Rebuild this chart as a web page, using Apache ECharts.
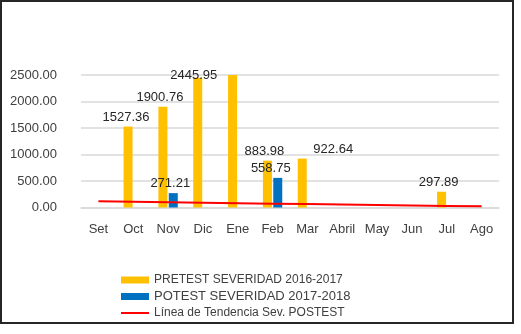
<!DOCTYPE html>
<html><head><meta charset="utf-8">
<script src="https://cdn.jsdelivr.net/npm/echarts@6/dist/echarts.min.js"></script>
<style>
html,body{margin:0;padding:0;background:#fff;}
#chart{position:absolute;left:0;top:0;width:521px;height:334px;}
#frame{position:absolute;left:0;top:0;width:514px;height:324px;box-sizing:border-box;border:2px solid #262626;pointer-events:none;}
</style></head>
<body>
<div id="chart"></div>
<div id="frame"></div>
<script>
const categories = ['Set','Oct','Nov','Dic','Ene','Feb','Mar','Abril','May','Jun','Jul','Ago'];
const pretest = [null, 1527.36, 1900.76, 2445.95, 2500, 883.98, 922.64, null, null, null, 297.89, null];
const postest = [null, null, 271.21, null, null, 558.75, null, null, null, null, null, null];
const trend = [116, 108, 99, 91, 82, 73, 65, 56, 48, 39, 30, 22];
const seriesNames = ['PRETEST SEVERIDAD 2016-2017', 'POTEST SEVERIDAD 2017-2018', 'Línea de Tendencia Sev. POSTEST'];
const yTicks = {min: 0, max: 2500, interval: 500};

// label placement tweaks (styling, not data)
const preLabelOffset = {1: [-2, 0], 2: [-3, 0], 3: [-4, 7], 4: null, 5: [-3, 0], 6: [31, 0], 10: [-3, 0]};
const postLabelOffset = {2: [-3, 0], 5: [-7, 0]};

function build(values, offsets) {
  return values.map((v, i) => {
    if (v == null) return null;
    const o = offsets[i];
    if (o === null) return {value: v, label: {show: false}};
    return {value: v, label: {offset: o || [0, 0]}};
  });
}

const font = 'Liberation Sans';
const chart = echarts.init(document.getElementById('chart'));
chart.setOption({
  animation: false,
  textStyle: {fontFamily: font},
  grid: {left: 81, right: 22, top: 75, bottom: 126.5},
  xAxis: {
    type: 'category', data: categories,
    axisLine: {lineStyle: {color: '#d9d9d9', width: 1.5}},
    axisTick: {show: false},
    axisLabel: {color: '#404040', fontSize: 13, margin: 15, fontFamily: font}
  },
  yAxis: {
    type: 'value', min: yTicks.min, max: yTicks.max, interval: yTicks.interval,
    axisLine: {show: false}, axisTick: {show: false},
    splitLine: {lineStyle: {color: '#d9d9d9', width: 1.5}},
    axisLabel: {color: '#404040', fontSize: 13, margin: 24, fontFamily: font,
      formatter: v => v.toFixed(2)}
  },
  legend: {
    orient: 'vertical', left: 115, top: 269, itemGap: 4,
    itemWidth: 28, itemHeight: 7,
    textStyle: {color: '#404040', fontSize: 12, fontFamily: font,
      rich: {big: {fontSize: 13, color: '#404040', fontFamily: font}}},
    formatter: n => n === seriesNames[1] ? '{big|' + n + '}' : n,
    data: [
      {name: seriesNames[0], icon: 'rect'},
      {name: seriesNames[1], icon: 'rect'},
      {name: seriesNames[2], itemStyle: {opacity: 0}, lineStyle: {color: '#FF0000', width: 2}}
    ]
  },
  series: [
    {
      name: seriesNames[0], type: 'bar', data: build(pretest, preLabelOffset),
      barWidth: 9, barGap: '15%',
      itemStyle: {color: '#FFC000'},
      label: {show: true, position: 'top', distance: 3, color: '#262626', fontSize: 13, fontFamily: font,
        formatter: p => p.value.toFixed(2)}
    },
    {
      name: seriesNames[1], type: 'bar', data: build(postest, postLabelOffset),
      barWidth: 9,
      itemStyle: {color: '#0070C0'},
      label: {show: true, position: 'top', distance: 3, color: '#262626', fontSize: 13, fontFamily: font,
        formatter: p => p.value.toFixed(2)}
    },
    {
      name: seriesNames[2], type: 'line', data: trend,
      symbol: 'none', z: 5,
      lineStyle: {color: '#FF0000', width: 2},
      itemStyle: {color: '#FF0000'}
    }
  ]
});
</script>
</body></html>
